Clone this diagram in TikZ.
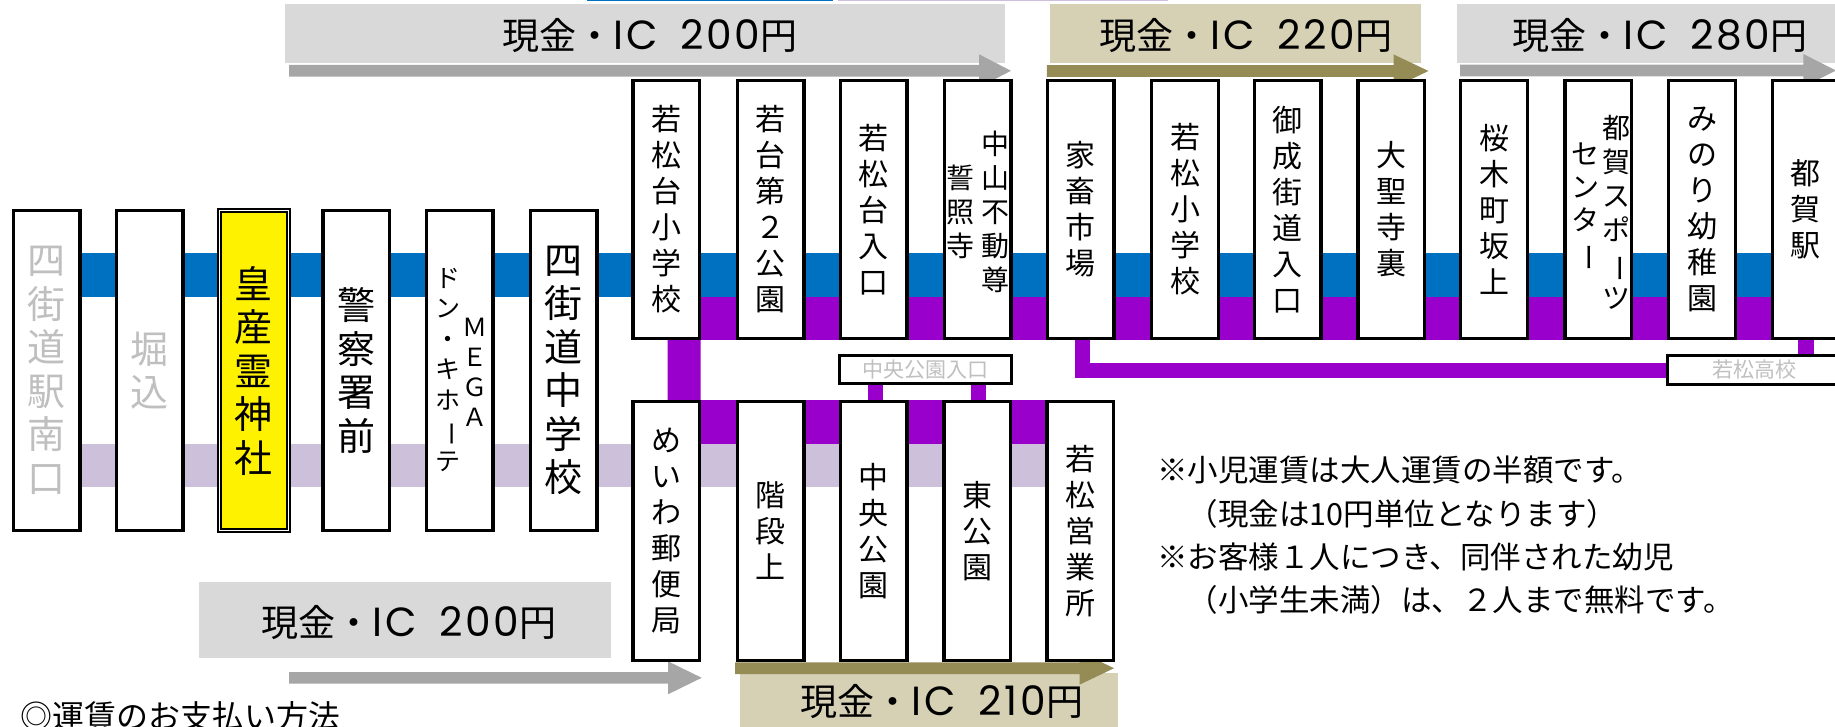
\documentclass[tikz,border=0pt]{standalone}
\usepackage{fontspec}
\usepackage{graphicx}
\setmainfont{Noto Sans CJK JP}
\newfontfamily\latf{Poppins}[Scale=1.1, LetterSpace=7, Numbers=Monospaced]
\usetikzlibrary{calc}
\pgfdeclarelayer{bg}
\pgfsetlayers{bg,main}
\definecolor{bandblue}{HTML}{0070C0}
\definecolor{bandpurple}{HTML}{9900CC}
\definecolor{bandlav}{HTML}{CCC0DA}
\definecolor{lblgray}{HTML}{D9D9D9}
\definecolor{arrgray}{HTML}{A6A6A6}
\definecolor{lbltan}{HTML}{D6D0B5}
\definecolor{arrolive}{HTML}{958B54}
\definecolor{txtgray}{HTML}{BFBFBF}
\newcommand{\vbar}{\rotatebox[origin=c]{-90}{ー}}
\newcommand{\farearrow}[5]{\fill[#1] (#2,#5-5.8) -- (#3,#5-5.8) -- (#3,#5-16.5) -- (#4,#5) -- (#3,#5+16.5) -- (#3,#5+5.8) -- (#2,#5+5.8) -- cycle;}
\newcommand{\faretext}[1]{現金・{\latf IC}\hspace{0.6em}{\latf #1}円}
\tikzset{
  stnbox/.style={draw=black, line width=3.4pt, fill=white, minimum width=66.6pt, inner sep=0pt, align=center, font=\fontsize{30}{36}\selectfont},
  topbox/.style={stnbox, minimum height=257.6pt},
  botbox/.style={stnbox, minimum height=258.6pt},
  leftbox/.style={stnbox, minimum height=319.6pt, font=\fontsize{38}{43.5}\selectfont},
  vcol/.style={inner sep=0pt, align=center, font=\fontsize{28}{34}\selectfont},
  farelbl/.style={inner sep=0pt, font=\fontsize{37}{37}\selectfont},
  subbox/.style={draw=black, line width=3.4pt, fill=white, inner sep=0pt, text=txtgray, font=\fontsize{21}{21}\selectfont},
  note/.style={anchor=west, inner sep=0pt, font=\fontsize{30.5}{30.5}\selectfont}
}
\begin{document}
\begin{tikzpicture}[x=1pt,y=-1pt]
\useasboundingbox (0,0) rectangle (1835,727);
% thin strips at the top edge
\fill[bandblue] (587,0) rectangle (833,1.3);
\fill[bandlav] (837.5,0) rectangle (1168,1.3);
% fare labels
\fill[lblgray] (285,4) rectangle (1004.8,62.7);
\fill[lbltan] (1049.6,4) rectangle (1420.6,62.7);
\fill[lblgray] (1457,4) rectangle (1840,62.7);
\fill[lblgray] (199,582) rectangle (611,657.7);
\fill[lbltan] (740,673) rectangle (1117.6,735);
\farearrow{arrgray}{289}{979}{1011}{70.8}
\farearrow{arrolive}{1046.8}{1393.7}{1428.5}{71}
\farearrow{arrgray}{1460}{1803.3}{1836}{70.5}
\farearrow{arrgray}{289}{668}{701.7}{677.8}
\farearrow{arrolive}{735}{1079.5}{1114}{668.2}
\node[farelbl] (f1) at (650,36) {\faretext{200}};
\node[farelbl] (f2) at (1246,36) {\faretext{220}};
\node[farelbl] (f3) at (1660,36) {\faretext{280}};
\node[farelbl] (f4) at (409,622.5) {\faretext{200}};
\node[farelbl] (f5) at (942,702) {\faretext{210}};
% left row
\node[leftbox, text=txtgray] (L0) at (46.7,370.5) {四\\街\\道\\駅\\南\\口};
\node[leftbox, text=txtgray] (L1) at (149.6,370.5) {堀\\込};
\node[leftbox, fill=yellow, line width=2pt, double=white, double distance=0.9pt, minimum width=69.1pt, minimum height=320.1pt] (L2) at (253.6,370.8) {皇\\産\\霊\\神\\社};
\node[leftbox] (L3) at (356.2,370.5) {警\\察\\署\\前};
\node[leftbox] (L4) at (459.5,370.5) {};
\node[vcol, font=\fontsize{25}{30.5}\selectfont] (L4a) at (448,369.5) {ド\\ン\\・\\キ\\ホ\\\vbar\\テ};
\node[vcol, font=\fontsize{25}{30}\selectfont] (L4b) at (475,372) {Ｍ\\Ｅ\\Ｇ\\Ａ};
\node[leftbox] (L5) at (563.5,370.5) {四\\街\\道\\中\\学\\校};
% top row
\node[topbox] (T0) at (666.2,209.5) {若\\松\\台\\小\\学\\校};
\node[topbox] (T1) at (770.8,209.5) {若\\台\\第\\２\\公\\園};
\node[topbox] (T2) at (873.8,209.5) {若\\松\\台\\入\\口};
\node[topbox] (T3) at (977.5,209.5) {};
\node[vcol] (T3a) at (995,212) {中\\山\\不\\動\\尊};
\node[vcol] (T3b) at (960,211.5) {誓\\照\\寺};
\node[topbox] (T4) at (1080.8,209.5) {家\\畜\\市\\場};
\node[topbox] (T5) at (1185,209.5) {若\\松\\小\\学\\校};
\node[topbox] (T6) at (1287.8,209.5) {御\\成\\街\\道\\入\\口};
\node[topbox] (T7) at (1391.3,209.5) {大\\聖\\寺\\裏};
\node[topbox] (T8) at (1494,209.5) {桜\\木\\町\\坂\\上};
\node[topbox] (T9) at (1598.4,209.5) {};
\node[vcol] (T9a) at (1616,212.5) {都\\賀\\ス\\ポ\\\vbar\\ツ};
\node[vcol, font=\fontsize{28}{33}\selectfont] (T9b) at (1585,207.5) {セ\\ン\\タ\\\vbar};
\node[topbox] (T10) at (1702,209.5) {み\\の\\り\\幼\\稚\\園};
\node[topbox] (T11) at (1805.5,209.5) {都\\賀\\駅};
% bottom row
\node[botbox] (B0) at (666.1,531) {め\\い\\わ\\郵\\便\\局};
\node[botbox] (B1) at (770.7,531) {階\\段\\上};
\node[botbox] (B2) at (873.8,531) {中\\央\\公\\園};
\node[botbox] (B3) at (977.4,531) {東\\公\\園};
\node[botbox] (B4) at (1080.3,531) {若\\松\\営\\業\\所};
% branch boxes
\node[subbox, minimum width=171.6pt, minimum height=27.6pt] (chuo) at (925.5,369.5) {中央公園入口};
\node[subbox, minimum width=173.6pt, minimum height=28.6pt] (kouko) at (1754.5,370) {若松高校};
% notes
\node[note] (n1) at (1157,470) {※小児運賃は大人運賃の半額です。};
\node[note] (n2) at (1157,513.5) {　（現金は10円単位となります）};
\node[note] (n3) at (1157,556.5) {※お客様１人につき、同伴された幼児};
\node[note] (n4) at (1157,600) {　（小学生未満）は、２人まで無料です。};
\node[anchor=north west, inner sep=0pt, font=\fontsize{32}{32}\selectfont] (pay) at (20,701) {◎運賃のお支払い方法};
% route bands
\begin{pgfonlayer}{bg}
\coordinate (eastB) at (1840,275);
\draw[bandblue, line width=44pt] (L0.center |- eastB) -- (eastB);
\coordinate (eastP) at (1840,318.5);
\draw[bandpurple, line width=43pt] (T0.center |- eastP) -- (eastP);
\coordinate (lavY) at (0,465.5);
\draw[bandlav, line width=43pt] (L0.center |- lavY) -- (B4.center |- lavY);
\coordinate (purY) at (0,422);
\draw[bandpurple, line width=44pt] (B0.center |- purY) -- (B4.center |- purY);
\draw[bandpurple, line width=33pt] ([xshift=18pt]T0.south) -- ([xshift=18pt]B0.north);
\draw[bandpurple, line width=15pt] ([xshift=2pt]B2.north) -- ([xshift=2pt]B2.north |- chuo.south);
\draw[bandpurple, line width=15pt] ([xshift=1pt]B3.north) -- ([xshift=1pt]B3.north |- chuo.south);
\draw[bandpurple, line width=15pt] ([xshift=2pt]T4.south) |- (kouko.west);
\draw[bandpurple, line width=16pt] (T11.south) -- (T11.south |- kouko.north);
\end{pgfonlayer}
\end{tikzpicture}
\end{document}
